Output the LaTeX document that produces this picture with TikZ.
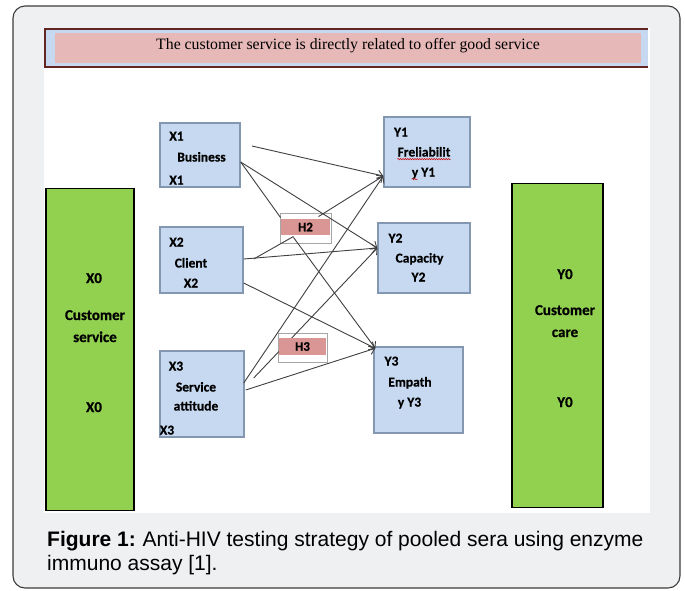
\documentclass[tikz,border=0pt]{standalone}
\usepackage{fontspec}
\usetikzlibrary{arrows.meta,calc,decorations.pathmorphing}
\newfontfamily\calbf{Carlito}[BoldFeatures={FakeBold=0.6}]
\newfontfamily\serifface{Liberation Serif}
\newfontfamily\capface{Liberation Sans}

\definecolor{panelgray}{HTML}{EFF0F2}
\definecolor{framegray}{HTML}{3C3C3C}
\definecolor{boxblue}{HTML}{C6D9F1}
\definecolor{boxedge}{HTML}{8497B0}
\definecolor{leafgreen}{HTML}{92D050}
\definecolor{bannerpink}{HTML}{E6B8B7}
\definecolor{bannerred}{HTML}{632523}
\definecolor{hpink}{HTML}{DA9694}
\definecolor{linkgray}{HTML}{404040}

\tikzset{
  varbox/.style={draw=boxedge, line width=1.4pt, fill=boxblue, inner sep=0pt},
  groupbox/.style={draw=black, line width=1.8pt, fill=leafgreen, inner sep=0pt},
  hframe/.style={draw=gray!70, line width=0.9pt, fill=white, inner sep=0pt},
  hband/.style={fill=hpink, inner sep=0pt, font=\calbf\bfseries\fontsize{13}{15}\selectfont},
  tx/.style={inner sep=0pt, anchor=base, font=\calbf\bfseries\fontsize{13.5}{16}\selectfont},
  gtx/.style={inner sep=0pt, anchor=base, font=\calbf\bfseries\fontsize{15}{18}\selectfont},
  link/.style={draw=linkgray, line width=0.9pt},
  arrowlink/.style={link, -{Straight Barb[length=5pt,width=9pt]}},
  squiggle/.style={draw=red!80!black, line width=0.5pt, decorate,
    decoration={snake, amplitude=0.7pt, segment length=2.4pt}}
}

\begin{document}
\begin{tikzpicture}[x=1pt,y=-1pt]
\useasboundingbox (0,0) rectangle (685,590);
\fill[white] (0,0) rectangle (685,590);

% outer frame and white drawing panel
\draw[framegray, line width=1.1pt, fill=panelgray, rounded corners=12pt] (13,6) rectangle (680,588);
\fill[white] (44,28) rectangle (650,513);

% title banner
\fill[boxblue] (44,28) rectangle (648,68);
\draw[bannerred, line width=1.6pt] (648,28.8) -- (45,28.8) -- (45,67.2) -- (648,67.2);
\fill[bannerpink] (55,33) rectangle (641,63);
\node[inner sep=0pt, anchor=base, font=\serifface\fontsize{15.8}{18}\selectfont]
  (title) at (348,49) {The customer service is directly related to offer good service};

% outer groups
\node[groupbox, minimum width=88pt, minimum height=322pt] (g0) at (90,349.5) {};
\node[groupbox, minimum width=91pt, minimum height=324pt] (g1) at (557.5,345.5) {};
\node[gtx] (g0a) at (94,283) {X0};
\node[gtx] (g0b) at (95,320) {Customer};
\node[gtx] (g0c) at (95,342) {service};
\node[gtx] (g0d) at (94,412) {X0};
\node[gtx] (g1a) at (565,279) {Y0};
\node[gtx] (g1b) at (565,315) {Customer};
\node[gtx] (g1c) at (565,337) {care};
\node[gtx] (g1d) at (565,407) {Y0};

% independent variables
\node[varbox, minimum width=80pt, minimum height=64pt] (x1) at (200,155) {};
\node[varbox, minimum width=83pt, minimum height=66pt] (x2) at (201.5,260) {};
\node[varbox, minimum width=84pt, minimum height=86pt] (x3) at (202,394) {};
% dependent variables
\node[varbox, minimum width=86pt, minimum height=70pt] (y1) at (427,152) {};
\node[varbox, minimum width=92pt, minimum height=70pt] (y2) at (424,258) {};
\node[varbox, minimum width=89pt, minimum height=86pt] (y3) at (418.5,390) {};

% hypothesis frames
\node[hframe, minimum width=51pt, minimum height=30pt] (h2f) at (305.5,228) {};
\node[hframe, minimum width=49pt, minimum height=29pt] (h3f) at (302.5,347.5) {};

% box texts
\node[tx] (x1a) at (176.5,140.5) {X1};
\node[tx] (x1b) at (201.5,161.5) {Business};
\node[tx] (x1c) at (176.5,184.5) {X1};
\node[tx] (x2a) at (176.5,246.5) {X2};
\node[tx] (x2b) at (191,267.5) {Client};
\node[tx] (x2c) at (191,287.5) {X2};
\node[tx] (x3a) at (176,370.5) {X3};
\node[tx] (x3b) at (196,391.5) {Service};
\node[tx] (x3c) at (196,410.5) {attitude};
\node[tx] (x3d) at (167,434.5) {X3};
\node[tx] (y1a) at (401,136.5) {Y1};
\node[tx] (y1b) at (424,156.5) {Freliabilit};
\node[tx] (y1c) at (423.5,176.5) {y Y1};
\node[tx] (y2a) at (395.5,242.5) {Y2};
\node[tx] (y2b) at (419.5,262.5) {Capacity};
\node[tx] (y2c) at (418.5,281.5) {Y2};
\node[tx] (y3a) at (391.5,365.5) {Y3};
\node[tx] (y3b) at (410,386.5) {Empath};
\node[tx] (y3c) at (409.5,406.5) {y Y3};

% spelling marks under the split word
\draw[squiggle] ($(y1b.base west)+(0,2.6)$) -- ($(y1b.base east)+(0,2.6)$);
\draw[squiggle] ($(y1c.base west)+(0,2.6)$) -- ($(y1c.base west)+(6,2.6)$);

% connector end points
\coordinate (s1) at (252,146);
\coordinate (y1in) at ($(y1.west)+(0,24)$);
\coordinate (y2in) at ($(y2.west)+(0,-10)$);
\coordinate (y3in) at ($(y3.north west)+(2,2)$);
\coordinate (fork) at ($(x2.east)+(10,-1)$);
\coordinate (x3s) at ($(x3.east)+(9,-16)$);

% links
\draw[arrowlink] (s1) -- (y1in);
\draw[link] ($(x1.east)+(0,7)$) -- ($(h2f.north west)+(1,5)$);
\draw[arrowlink] ($(x1.east)+(0,7)$) -- (y2in);
\draw[arrowlink] ($(h2f.north)+(13,4)$) -- (y1in);
\draw[arrowlink] ($(x2.east)+(0,-1)$) -- (y2in);
\draw[link] (fork) -- ($(h2f.south)+(-12,-7)$);
\draw[arrowlink] ($(h2f.south)+(-12,-6)$) -- (y3in);
\draw[arrowlink] ($(x2.east)+(0,23)$) -- (y3in);
\draw[arrowlink] ($(x3.east)+(-1,-11)$) -- (y1in);
\draw[arrowlink] (x3s) -- (y2in);
\draw[arrowlink] ($(x3.east)+(1,-4)$) -- (y3in);

% hypothesis labels
\node[hband, minimum width=49pt, minimum height=16pt] (h2) at (305.5,227) {H2};
\node[hband, minimum width=47pt, minimum height=17pt] (h3) at (302.5,346.5) {H3};

% caption
\node[inner sep=0pt, anchor=base west, font=\capface\fontsize{21}{24}\selectfont]
  (cap1) at (47,546) {\textbf{Figure 1:}\hspace{-1pt} Anti-HIV testing strategy of pooled sera using enzyme};
\node[inner sep=0pt, anchor=base west, font=\capface\fontsize{21}{24}\selectfont]
  (cap2) at (47,570) {immuno assay [1].};
\end{tikzpicture}
\end{document}
